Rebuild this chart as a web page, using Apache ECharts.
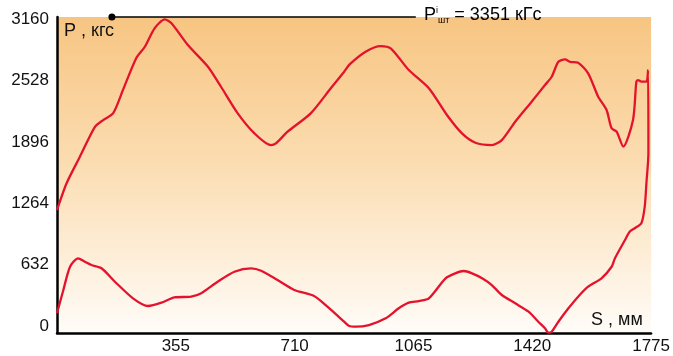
<!DOCTYPE html>
<html>
<head>
<meta charset="utf-8">
<script src="https://cdn.jsdelivr.net/npm/echarts@6/dist/echarts.min.js"></script>
<style>html,body{margin:0;padding:0;background:#fff}#c{width:673px;height:356px}</style>
</head>
<body>
<div id="c"></div>
<script>
// Tick labels
var xTicks = [355, 710, 1065, 1420, 1775];
var yTicks = [0, 632, 1264, 1896, 2528, 3160];

// Upper branch (load stroke), left to right
var upperS = [0, 29, 68, 113, 138, 168, 197, 237, 262, 292, 322, 342, 391, 451, 490, 540, 590, 639, 654, 689, 758, 818, 858, 875, 922, 967, 997, 1051, 1111, 1165, 1210, 1250, 1299, 1329, 1369, 1418, 1458, 1478, 1498, 1518, 1533, 1557, 1587, 1617, 1642, 1657, 1672, 1692, 1721, 1731, 1736, 1746, 1761, 1766];
var upperP = [1194, 1472, 1740, 2048, 2120, 2192, 2429, 2759, 2872, 3067, 3157, 3116, 2892, 2669, 2463, 2189, 1983, 1863, 1880, 2000, 2189, 2447, 2618, 2695, 2824, 2882, 2858, 2635, 2447, 2172, 1983, 1887, 1863, 1914, 2103, 2309, 2481, 2566, 2720, 2745, 2720, 2710, 2601, 2360, 2223, 2035, 2000, 1846, 2120, 2515, 2532, 2515, 2515, 2635];

// Right side and lower branch (unload stroke), right to left
var lowerS = [1767, 1761, 1756, 1746, 1726, 1711, 1697, 1667, 1657, 1627, 1587, 1557, 1528, 1498, 1478, 1468, 1458, 1438, 1409, 1369, 1329, 1299, 1270, 1240, 1215, 1190, 1161, 1111, 1081, 1051, 1021, 982, 932, 893, 873, 858, 808, 768, 709, 659, 610, 580, 530, 480, 431, 401, 351, 312, 272, 227, 173, 133, 103, 83, 63, 39, 19, 0];
var lowerP = [1781, 1469, 1228, 1057, 1006, 971, 885, 697, 610, 491, 405, 302, 182, 44, -59, -69, -24, 44, 147, 234, 319, 422, 491, 542, 566, 542, 491, 285, 257, 240, 182, 79, 10, -7, 0, 44, 199, 309, 371, 473, 569, 594, 559, 456, 337, 302, 295, 240, 206, 285, 456, 594, 628, 662, 697, 610, 371, 131];

// Reference line P_шт
var refS = [164, 1072];
var refP = [3181, 3181];

var pathData = [];
for (var i = 0; i < upperS.length; i++) pathData.push([upperS[i], upperP[i]]);
for (var j = 0; j < lowerS.length; j++) pathData.push([lowerS[j], lowerP[j]]);
var refData = refS.map(function (s, k) { return [s, refP[k]]; });

var FONT = 'Liberation Sans, Arial, sans-serif';
var plain = function (v) { return String(v); };
var chart = echarts.init(document.getElementById('c'), null, {renderer: 'canvas'});
chart.setOption({
  animation: false,
  grid: {
    left: 57, right: 20, top: 17, bottom: 23,
    show: true, borderWidth: 0,
    backgroundColor: new echarts.graphic.LinearGradient(0, 0, 0, 1, [
      {offset: 0, color: '#F7C582'},
      {offset: 0.45, color: '#FBDCB0'},
      {offset: 1, color: '#FFFCF8'}
    ])
  },
  xAxis: {
    type: 'value', min: 0, max: 1775,
    axisLine: {show: true, onZero: false, lineStyle: {color: '#000', width: 2.5}},
    axisTick: {show: false},
    splitLine: {show: false},
    axisLabel: {customValues: xTicks, formatter: plain, color: '#111', fontFamily: FONT, fontSize: 17, margin: 5}
  },
  yAxis: {
    type: 'value', min: -72, max: 3181,
    axisLine: {show: true, onZero: false, lineStyle: {color: '#000', width: 2.5}},
    axisTick: {show: false},
    splitLine: {show: false},
    axisLabel: {customValues: yTicks, formatter: plain, color: '#111', fontFamily: FONT, fontSize: 17, margin: 8}
  },
  series: [
    {
      type: 'line', data: pathData, smooth: 0.25, symbol: 'none',
      lineStyle: {color: '#E3132D', width: 2.3}
    },
    {
      type: 'line', data: refData, clip: false,
      symbol: function (v, p) { return p.dataIndex === 0 ? 'circle' : 'none'; },
      symbolSize: 7,
      itemStyle: {color: '#000'},
      lineStyle: {color: '#000', width: 1.5}
    }
  ],
  graphic: [
    {type: 'text', left: 64, top: 22, style: {text: 'P , кгс', font: '18px ' + FONT, fill: '#111'}},
    {type: 'text', left: 591, top: 311, style: {text: 'S , мм', font: '18px ' + FONT, fill: '#111'}},
    {type: 'text', left: 424, top: 6, style: {
      rich: {
        p: {fontSize: 18, fontFamily: FONT, color: '#111'},
        sup: {fontSize: 9, fontFamily: FONT, color: '#111', verticalAlign: 'top', padding: [0, 0, 10, 0]},
        sub: {fontSize: 9, fontFamily: FONT, color: '#111', verticalAlign: 'bottom', padding: [10, 0, 0, 0]}
      },
      text: '{p|P}{sup|i}{sub|шт}{p| = 3351 кГс}'
    }}
  ]
});
</script>
</body>
</html>
